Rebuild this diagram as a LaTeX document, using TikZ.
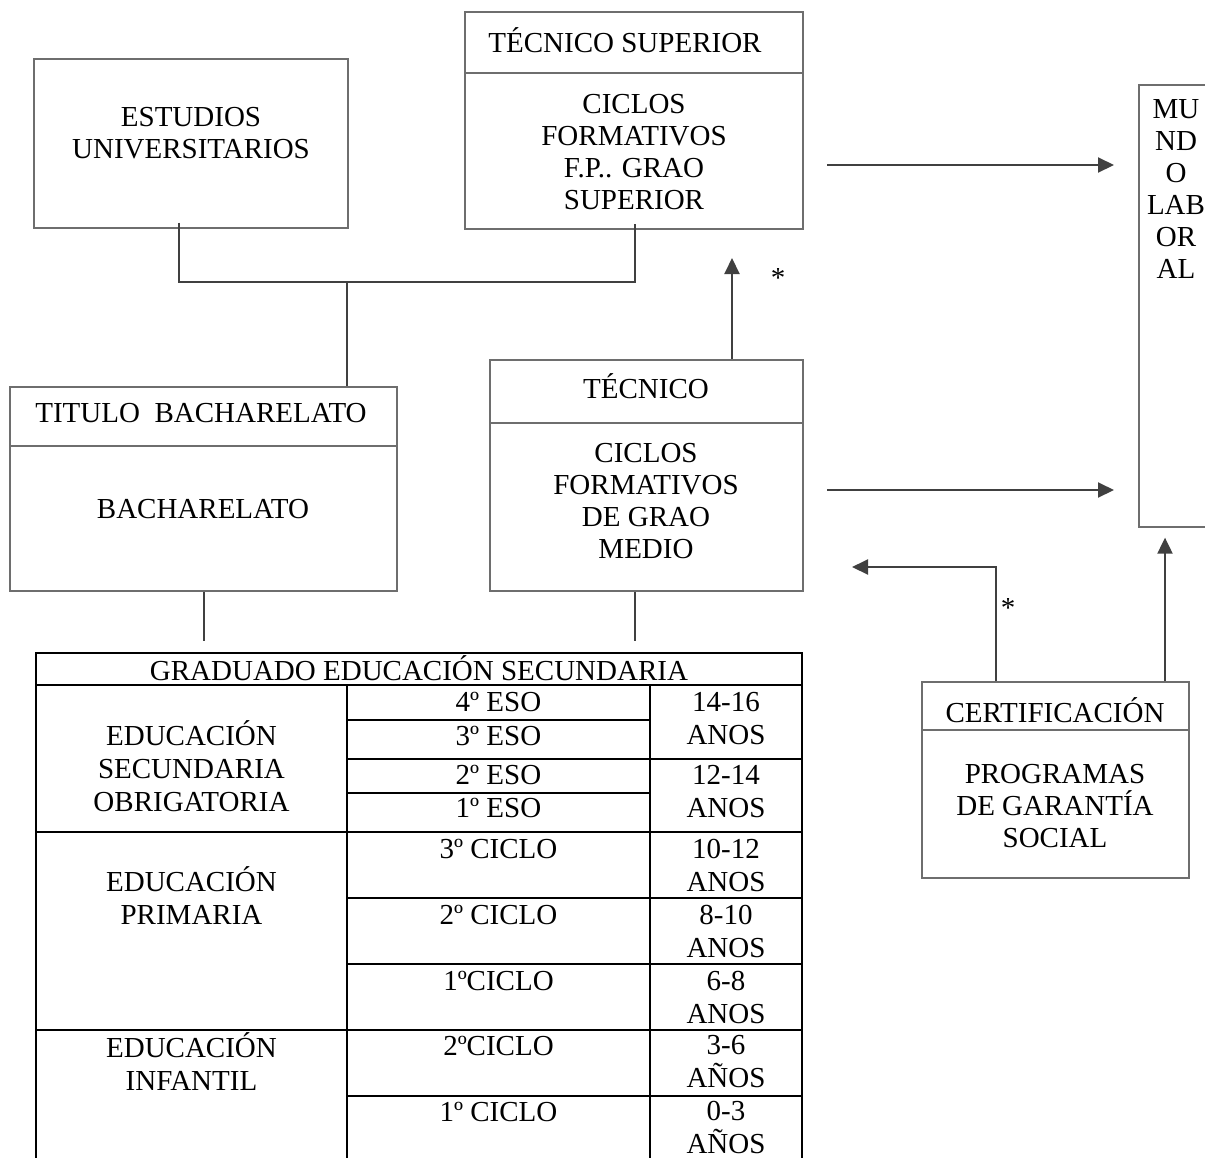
\documentclass[tikz,border=0pt]{standalone}
\usepackage{fontspec}
\setmainfont{Liberation Serif}
\usetikzlibrary{arrows.meta}
\definecolor{boxgray}{HTML}{6E6E6E}
\definecolor{linegray}{HTML}{404040}
\tikzset{
  box/.style={draw=boxgray,line width=1.3pt,inner sep=0pt},
  boxline/.style={draw=boxgray,line width=1.3pt},
  txt/.style={align=center,inner sep=0pt,font=\fontsize{29}{32}\selectfont},
  tabtxt/.style={align=center,inner sep=0pt,font=\fontsize{29}{33}\selectfont},
  conn/.style={draw=linegray,line width=2pt},
  arr/.style={conn,-{Triangle[length=16pt,width=15pt]}},
  tabline/.style={draw=black,line width=1.2pt}
}
\begin{document}
\begin{tikzpicture}[x=1pt,y=-1pt]
\useasboundingbox (0,0) rectangle (1205,1157);
%boxes
\node[box,minimum width=314pt,minimum height=169pt] (estudios) at (191,143.5) {};
\node[box,minimum width=338pt,minimum height=217pt] (tecsup) at (634,120.5) {};
\node[box,minimum width=387pt,minimum height=204pt] (titulo) at (203.5,489) {};
\node[box,minimum width=313pt,minimum height=231pt] (tecnico) at (646.5,475.5) {};
\node[box,minimum width=74pt,minimum height=442pt] (mundo) at (1176,306) {};
\node[box,minimum width=267pt,minimum height=196pt] (cert) at (1055.5,780) {};
\draw[boxline] (tecsup.west |- 0,73) -- (tecsup.east |- 0,73);
\draw[boxline] (titulo.west |- 0,446) -- (titulo.east |- 0,446);
\draw[boxline] (tecnico.west |- 0,423) -- (tecnico.east |- 0,423);
\draw[boxline] (cert.west |- 0,730) -- (cert.east |- 0,730);
%texts
\node[txt] (estudiostxt) at (191,133) {ESTUDIOS\\UNIVERSITARIOS};
\node[txt] (tecsuptit) at (625,40) {TÉCNICO SUPERIOR};
\node[txt] (tecsuptxt) at (634,152.5) {CICLOS\\FORMATIVOS\\F.P.. GRAO\\SUPERIOR};
\node[txt] (titulotit) at (201,413) {TITULO\ \ BACHARELATO};
\node[txt] (titulotxt) at (203,509) {BACHARELATO};
\node[txt] (tecnicotit) at (646,386) {TÉCNICO};
\node[txt] (tecnicotxt) at (646,501) {CICLOS\\FORMATIVOS\\DE GRAO\\MEDIO};
\node[txt] (mundotxt) at (1176,189) {MU\\ND\\O\\LAB\\OR\\AL};
\node[txt] (certtit) at (1055,710) {CERTIFICACIÓN};
\node[txt] (certtxt) at (1055,806) {PROGRAMAS\\DE GARANTÍA\\SOCIAL};
\node[txt] (star1) at (778,278) {*};
\node[txt] (star2) at (1008,608) {*};
%connectors
\coordinate (join) at (347,282);
\draw[conn] ([yshift=6pt]estudios.south -| 179,0) -- (179,282) -- (635,282) -- ([yshift=6pt]tecsup.south -| 635,0);
\draw[conn] (join) -- (titulo.north -| join);
\draw[conn] (titulo.south) -- ++(0,49);
\draw[conn] (tecnico.south -| 635,0) -- ++(0,49);
%arrows
\coordinate (uptip) at (732,258);
\coordinate (s1) at (827,165);
\coordinate (e1) at (1114,165);
\coordinate (s2) at (827,490);
\coordinate (e2) at (1114,490);
\coordinate (lefttip) at (852,567);
\draw[arr] (tecnico.north -| uptip) -- (uptip);
\draw[arr] (s1) -- (e1);
\draw[arr] (s2) -- (e2);
\draw[arr] (cert.north -| 996,0) |- (lefttip);
\draw[arr] (cert.north -| 1165,0) -- ([yshift=-10pt]mundo.south -| 1165,0);
%table
\draw[tabline] (36,653) rectangle (802,1165);
\draw[tabline] (36,685) -- (802,685);
\draw[tabline] (347,685) -- (347,1165);
\draw[tabline] (650,685) -- (650,1165);
\foreach \y in {720,793} \draw[tabline] (347,\y) -- (650,\y);
\foreach \y in {759,898,964,1096} \draw[tabline] (347,\y) -- (802,\y);
\foreach \y in {832,1030} \draw[tabline] (36,\y) -- (802,\y);
\node[tabtxt] (grad) at (419,668) {GRADUADO EDUCACIÓN SECUNDARIA};
\node[tabtxt] (eso) at (191.5,766.5) {EDUCACIÓN\\SECUNDARIA\\OBRIGATORIA};
\node[tabtxt] (prim) at (191.5,896) {EDUCACIÓN\\PRIMARIA};
\node[tabtxt] (inf) at (191.5,1061.5) {EDUCACIÓN\\INFANTIL};
\node[tabtxt] (eso4) at (498.5,702) {4º ESO};
\node[tabtxt] (eso3) at (498.5,736) {3º ESO};
\node[tabtxt] (eso2) at (498.5,775) {2º ESO};
\node[tabtxt] (eso1) at (498.5,808) {1º ESO};
\node[tabtxt] (prim3) at (498.5,849) {3º CICLO};
\node[tabtxt] (prim2) at (498.5,915) {2º CICLO};
\node[tabtxt] (prim1) at (498.5,981) {1ºCICLO};
\node[tabtxt] (inf2) at (498.5,1046) {2ºCICLO};
\node[tabtxt] (inf1) at (498.5,1112) {1º CICLO};
\node[tabtxt] (age1) at (726,719) {14-16\\ANOS};
\node[tabtxt] (age2) at (726,791.5) {12-14\\ANOS};
\node[tabtxt] (age3) at (726,865) {10-12\\ANOS};
\node[tabtxt] (age4) at (726,931) {8-10\\ANOS};
\node[tabtxt] (age5) at (726,997.5) {6-8\\ANOS};
\node[tabtxt] (age6) at (726,1061.5) {3-6\\AÑOS};
\node[tabtxt] (age7) at (726,1127.5) {0-3\\AÑOS};
\end{tikzpicture}
\end{document}
